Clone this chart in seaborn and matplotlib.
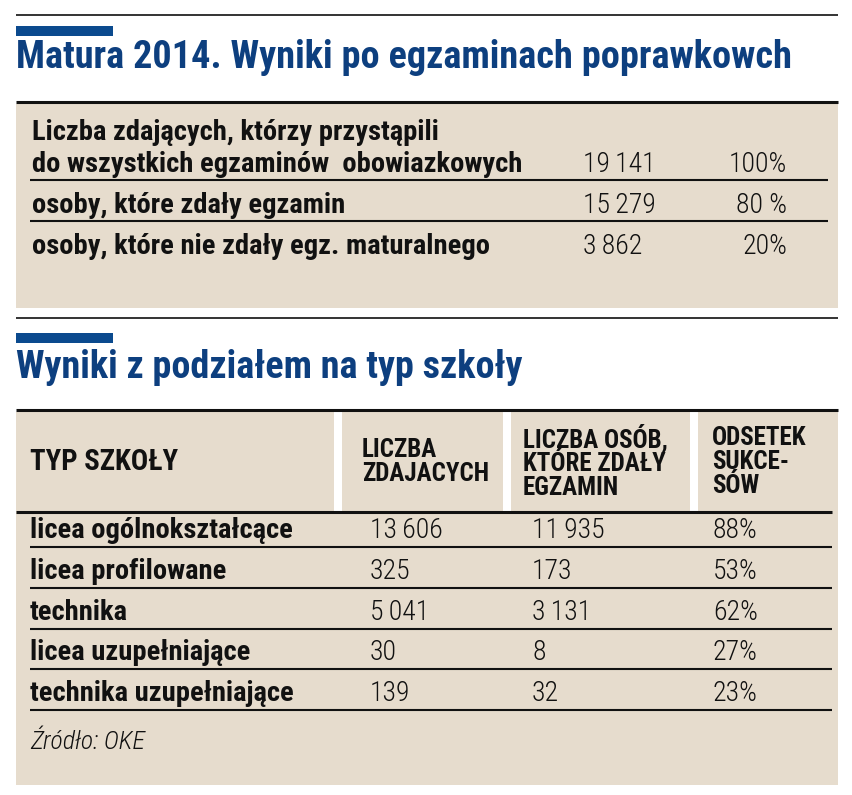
import matplotlib
matplotlib.use("Agg")
import matplotlib.pyplot as plt
from matplotlib.patches import Rectangle
from matplotlib import font_manager
import seaborn as sns

# data
title_main = "Matura 2014. Wyniki po egzaminach poprawkowch"
title_types = "Wyniki z podziałem na typ szkoły"

summary_labels = ["Liczba zdających, którzy przystąpili\ndo wszystkich egzaminów  obowiazkowych",
                  "osoby, które zdały egzamin",
                  "osoby, które nie zdały egz. maturalnego"]
summary_counts = [19141, 15279, 3862]
summary_pct = ["100%", "80 %", "20%"]

col_headers = ["TYP SZKOŁY", "LICZBA\nZDAJACYCH", "LICZBA OSÓB,\nKTÓRE ZDAŁY\nEGZAMIN", "ODSETEK\nSUKCE-\nSÓW"]
school_types = ["licea ogólnokształcące", "licea profilowane", "technika",
                "licea uzupełniające", "technika uzupełniające"]
school_total = [13606, 325, 5041, 30, 139]
school_passed = [11935, 173, 3131, 8, 32]
school_pct = [88, 53, 62, 27, 23]
source = "Źródło: OKE"

sns.set_theme(style="white")
installed = {f.name for f in font_manager.fontManager.ttflist}


def pick(names):
    return [f for f in names if f in installed] + ["DejaVu Sans"]


body_fam = pick(["Roboto Condensed", "Liberation Sans Narrow", "Open Sans"])
plt.rcParams['font.family'] = body_fam

BEIGE = "#e6dccd"
BLUE = "#0b4a8e"
NAVY = "#0d3f7f"
INK = "#111111"


def fmt(n):
    return f"{n:,}".replace(",", "\u2009")


fig = plt.figure(figsize=(8.52, 7.95), dpi=100)
ax = fig.add_axes([0, 0, 1, 1])
ax.set_xlim(0, 852)
ax.set_ylim(795, 0)
ax.axis("off")
renderer = fig.canvas.get_renderer()


def fit(x, y, s, width, **kw):
    # scale the font so the text spans the width seen in the reference
    t = ax.text(x, y, s, **kw)
    w = t.get_window_extent(renderer).width
    t.set_fontsize(t.get_fontsize() * width / w)
    return t


# ---- section 1
ax.hlines(15, 16, 838, color=INK, lw=1.2)
ax.add_patch(Rectangle((16, 26), 97, 10, color=BLUE, lw=0))
fit(16, 68, title_main, 774, fontsize=22, fontweight="bold", color=NAVY, va="baseline")
ax.hlines(102, 16, 838, color=INK, lw=2.2)
ax.add_patch(Rectangle((16, 104), 822, 204, color=BEIGE, lw=0))

body = dict(fontsize=20.5, fontweight="bold", color=INK, va="baseline")
nums = dict(fontsize=20, fontweight="light", color=INK, va="baseline")
base1 = [172, 213, 254]
for i, (lab, n, p) in enumerate(zip(summary_labels, summary_counts, summary_pct)):
    lines = lab.split("\n")
    for j, ln in enumerate(lines[::-1]):
        ax.text(32, base1[i] - 32 * j, ln, **body)
    ax.text(583, base1[i], fmt(n), **nums)
    ax.text(787, base1[i], p, ha="right", **nums)
for y in [180, 221]:
    ax.hlines(y, 30, 828, color=INK, lw=1.5)

ax.hlines(318, 16, 838, color=INK, lw=1.2)

# ---- section 2
ax.add_patch(Rectangle((16, 333), 97, 10, color=BLUE, lw=0))
fit(16, 378, title_types, 506, fontsize=22, fontweight="bold", color=NAVY, va="baseline")
ax.hlines(410, 16, 838, color=INK, lw=2.2)
ax.add_patch(Rectangle((16, 412), 822, 373, color=BEIGE, lw=0))
for x0 in [334, 503, 690]:
    ax.add_patch(Rectangle((x0, 411), 8, 100, color="white", lw=0))

head = dict(fontsize=18, fontweight="heavy", color=INK, va="center", linespacing=1.0)
fit(30, 462, col_headers[0], 148, **head)
for x, h in zip([362, 523, 712], col_headers[1:]):
    ax.text(x, 462, h, **head)
ax.hlines(512, 16, 832, color=INK, lw=2.2)

col_x = [30, 370, 532, 713]
for i in range(len(school_types)):
    line_y = 547 + 40.75 * i
    base = line_y - 9
    ax.text(col_x[0], base, school_types[i], **body)
    ax.text(col_x[1], base, fmt(school_total[i]), **nums)
    ax.text(col_x[2], base, fmt(school_passed[i]), **nums)
    ax.text(col_x[3], base, f"{school_pct[i]}%", **nums)
    ax.hlines(line_y, 30, 832, color=INK, lw=1.5)

ax.text(30, 742, source, fontsize=18.5, fontweight="light", style="italic", color=INK, va="center")

fig.savefig("out.png", dpi=100, facecolor="white")
